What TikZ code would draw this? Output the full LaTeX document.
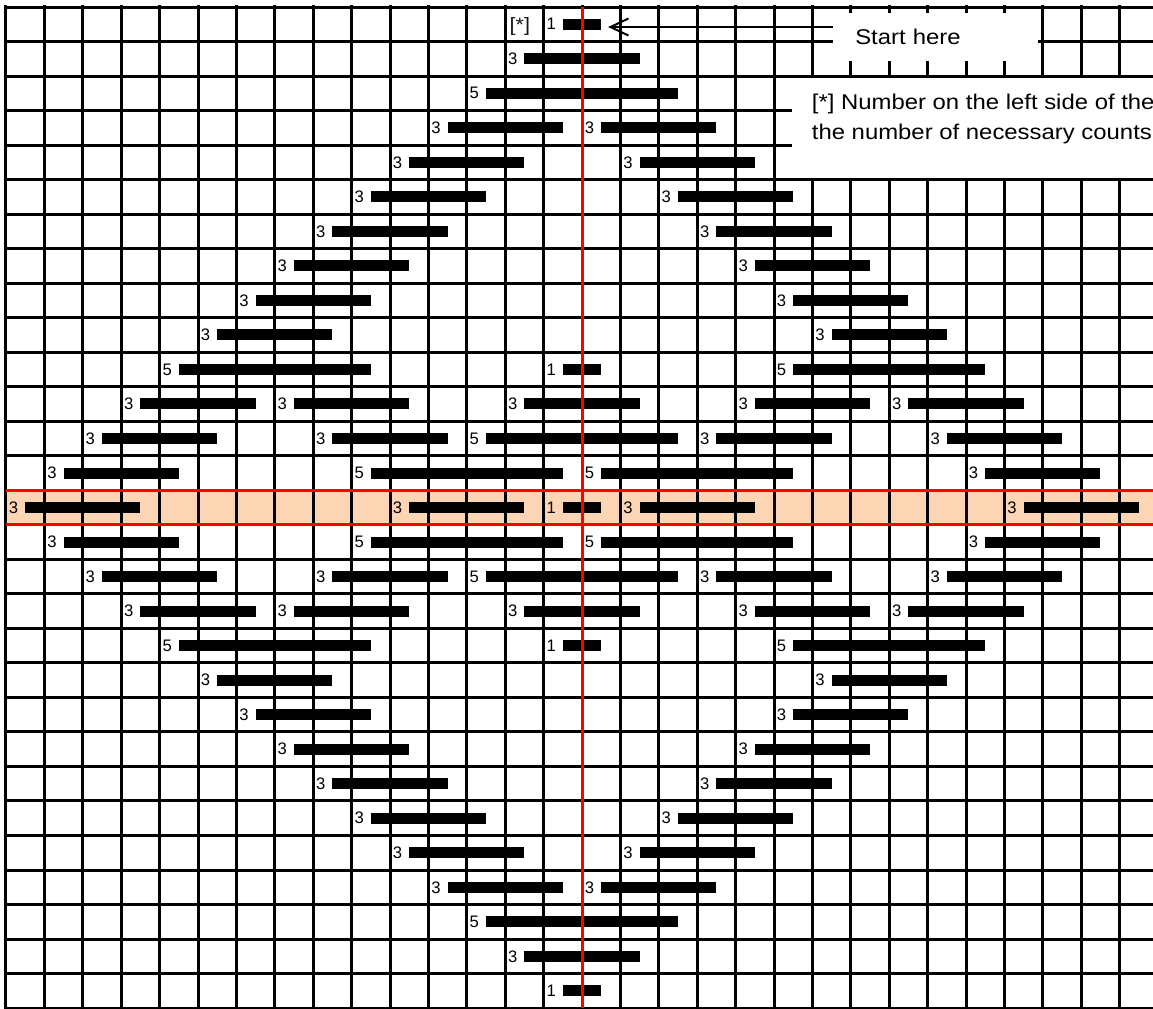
\documentclass[tikz,border=0pt]{standalone}
\usepackage{fontspec}
\setmainfont{Liberation Sans}
\newfontfamily\widesans[FakeStretch=1.12]{Liberation Sans}
\usetikzlibrary{arrows.meta}
\definecolor{rowfill}{HTML}{FCD5B4}
\definecolor{markred}{HTML}{FF0000}

\begin{document}
\begin{tikzpicture}[
    x=28.8pt, y=25.89pt, % one unit = one cell of the chart
    gridline/.style={line width=2.25pt, line cap=rect},
    redline/.style={markred, line width=2.25pt},
    run/.style={line width=8.25pt},
    count/.style={anchor=west, inner sep=0pt, xshift=2pt, font=\fontsize{12.5}{13}\selectfont},
    startbox/.style={fill=white, anchor=north west, inner xsep=16.5pt, inner ysep=0pt,
        minimum height=36pt, text width=120.75pt, align=left, font=\widesans\fontsize{16}{19}\selectfont},
    note/.style={anchor=base west, inner sep=0pt, font=\widesans\fontsize{16}{19}\selectfont},
    pointer/.style={-{Straight Barb[length=13.5pt, width=12.75pt]}, line width=1.5pt}
]

    % --- 1. PAGE AND SHARED VARIABLES ---
    \useasboundingbox (-0.15625,0.2028) rectangle (29.8698,-29.0267);
    \clip (-0.15625,0.2028) rectangle (29.8698,-29.0267);

    \def\rows{29}
    \def\mid{14}   % highlighted middle row
    \def\xEnd{30.5}

    % --- 2. MACRO FOR ONE RUN: row, column, length ---
    \def\drawRun#1#2#3{
        \draw[run] (#2+0.5,-#1-0.5) -- ++(#3,0);
        \node[count] (c-#1-#2) at (#2,-#1-0.5) {#3};
    }

    % --- 3. GRID ---
    \fill[rowfill] (0,-\mid) rectangle (\xEnd,-\mid-1);
    \draw[gridline, step=1] (0,-\rows) grid (\xEnd,0);
    \draw[redline] (0,-\mid) -- (\xEnd,-\mid) (0,-\mid-1) -- (\xEnd,-\mid-1);

    % --- 4. RUNS (upper half, mirrored below the middle row) ---
    \foreach \r/\c/\n in {0/14/1, 1/13/3, 2/12/5, 3/11/3, 3/15/3, 4/10/3, 4/16/3,
        5/9/3, 5/17/3, 6/8/3, 6/18/3, 7/7/3, 7/19/3, 8/6/3, 8/20/3, 9/5/3, 9/21/3,
        10/4/5, 10/14/1, 10/20/5, 11/3/3, 11/7/3, 11/13/3, 11/19/3, 11/23/3,
        12/2/3, 12/8/3, 12/12/5, 12/18/3, 12/24/3, 13/1/3, 13/9/5, 13/15/5, 13/25/3,
        14/0/3, 14/10/3, 14/14/1, 14/16/3, 14/26/3} {
        \drawRun{\r}{\c}{\n}
        \pgfmathtruncatemacro{\rr}{28-\r}
        \ifnum\r<\mid \drawRun{\rr}{\c}{\n}\fi
    }

    % centre line
    \draw[redline] (15,0) -- (15,-\rows);

    % --- 5. NOTES ---
    \node[anchor=west, inner sep=0pt, text=black!90, font=\widesans\fontsize{14.5}{16}\selectfont]
        (star) at (13.11,-0.56) {[*]};

    \node[startbox] (start) at (21.536,-0.174) {Start here};
    \coordinate (tip) at (15.68,-0.58);
    \draw[pointer] (start.west |- tip) -- (tip);

    \fill[white] (20.47,-2.057) rectangle (\xEnd,-4.954);
    \node[note] (note-a) at (20.98,-2.963) {[*] Number on the left side of the};
    \node[note] (note-b) at (20.98,-3.824) {the number of necessary counts};

\end{tikzpicture}
\end{document}
